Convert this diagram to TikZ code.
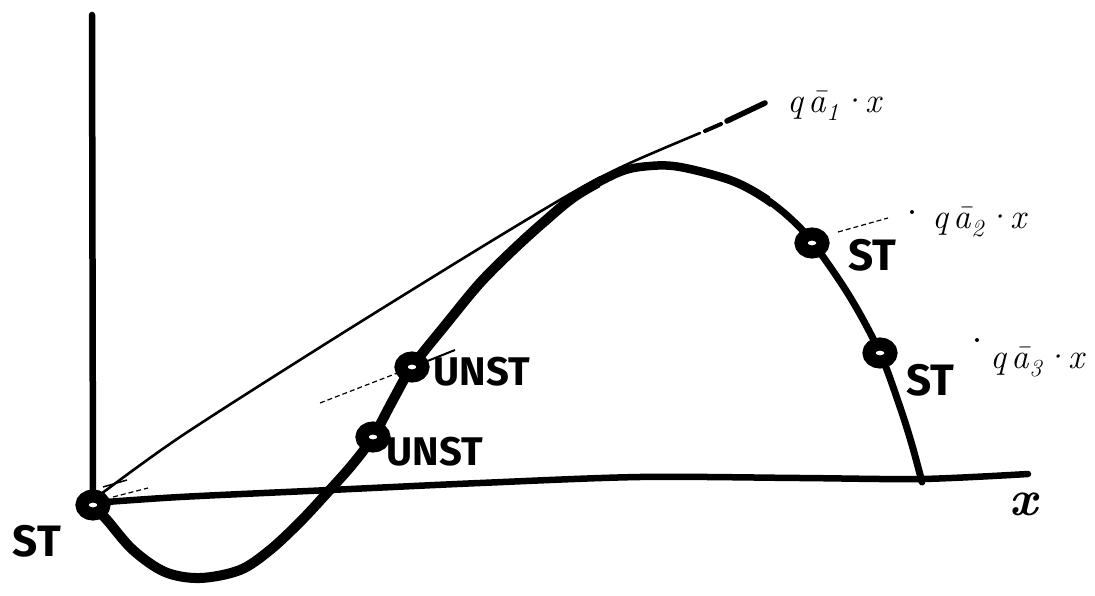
\documentclass[tikz,border=0pt]{standalone}
\usepackage{fontspec}
\setsansfont{Fira Sans}
\usetikzlibrary{shapes.geometric}
\newcommand{\hcurve}{plot[smooth,tension=0.55] coordinates {(93,505) (107,520) (133,550) (165,572) (200,578) (240,570) (270,550) (300,522) (327,493) (352,465) (373,437) (393,400) (412,367) (447,323) (480,283) (513,250) (545,221) (577,195) (620,172) (650,166) (680,167) (730,180) (763,197) (790,218) (813,243) (850,297) (880,353) (900,407) (912,445) (922,482)}}
\tikzset{
  axisline/.style={line width=6.5pt, line cap=round, line join=round},
  mk/.style={ellipse, draw, line width=13pt, fill=white, minimum width=22pt, minimum height=18pt, inner sep=0pt},
  hand/.style={font=\sffamily\bfseries\fontsize{44}{44}\selectfont, inner sep=0pt},
  handsm/.style={font=\sffamily\bfseries\fontsize{40}{40}\selectfont, inner sep=0pt},
  mathlab/.style={font=\itshape\fontsize{35}{35}\selectfont, inner sep=0pt, anchor=west},
  faint/.style={line width=1.2pt, dash pattern=on 5pt off 3pt},
  dotmark/.style={circle, fill, inner sep=0pt, minimum size=4pt},
}
\begin{document}
\begin{tikzpicture}[x=1pt,y=-1pt]
\useasboundingbox (0,0) rectangle (1095,596);
% key points
\coordinate (O) at (93,504);
\coordinate (ytop) at (92,15);
\coordinate (xend) at (1028,474);
\coordinate (t1end) at (765,103);
% axes
\draw[axisline] (ytop) -- (O);
\draw[axisline] plot[smooth] coordinates {(93,503) (180,497) (330,490) (480,483) (640,477) (800,478) (922,479) (1028,474)};
% tangent line  q a1 x
\draw[line width=2.6pt, line cap=round] plot[smooth] coordinates {(93,500) (180,437) (330,341) (480,248) (577,190) (630,163) (700,133)};
\draw[line width=4pt, line cap=round] (705,131) -- (721,124);
\draw[line width=5.5pt, line cap=round] (727,121) -- (t1end);
% faint rays from origin
\draw[line width=1.5pt] (103,487) -- (127,480);
\draw[faint] (113,497) -- (148,488);
% faint line q a2 x
\draw[faint] (320,403) -- (400,372);
\draw[line width=2pt] (400,372) -- (455,350);
\draw[faint] (838,232) -- (888,218);
\node[dotmark] (d2) at (912,212) {};
\node[dotmark] (d3) at (977,340) {};
% main curve with tapering width
\draw[line width=7pt, line cap=round, line join=round] \hcurve;
\begin{scope}
\clip (0,0) rectangle (770,596);
\draw[line width=8.5pt, line cap=round, line join=round] \hcurve;
\end{scope}
\begin{scope}
\clip (0,0) rectangle (600,596);
\draw[line width=10pt, line cap=round, line join=round] \hcurve;
\end{scope}
% markers
\node[mk] (mO) at (93,505) {};
\node[mk] (mU1) at (373,437) {};
\node[mk] (mU2) at (412,367) {};
\node[mk] (mS2) at (812,243) {};
\node[mk] (mS3) at (880,353) {};
% labels
\node[hand] (stO) at (37,541) {ST};
\node[handsm] (u2) at (482,372) {UNST};
\node[handsm] (u1) at (435,452) {UNST};
\node[hand] (s2) at (872,255) {ST};
\node[hand] (s3) at (930,380) {ST};
\node[mathlab] (l1) at (787,106) {q\,ā\textsubscript{1}·x};
\node[mathlab] (l2) at (932,222) {q\,ā\textsubscript{2}·x};
\node[mathlab] (l3) at (990,362) {q\,ā\textsubscript{3}·x};
\node[font=\bfseries\itshape\fontsize{50}{50}\selectfont, inner sep=0pt] (xl) at (1024,504) {x};
\end{tikzpicture}
\end{document}
